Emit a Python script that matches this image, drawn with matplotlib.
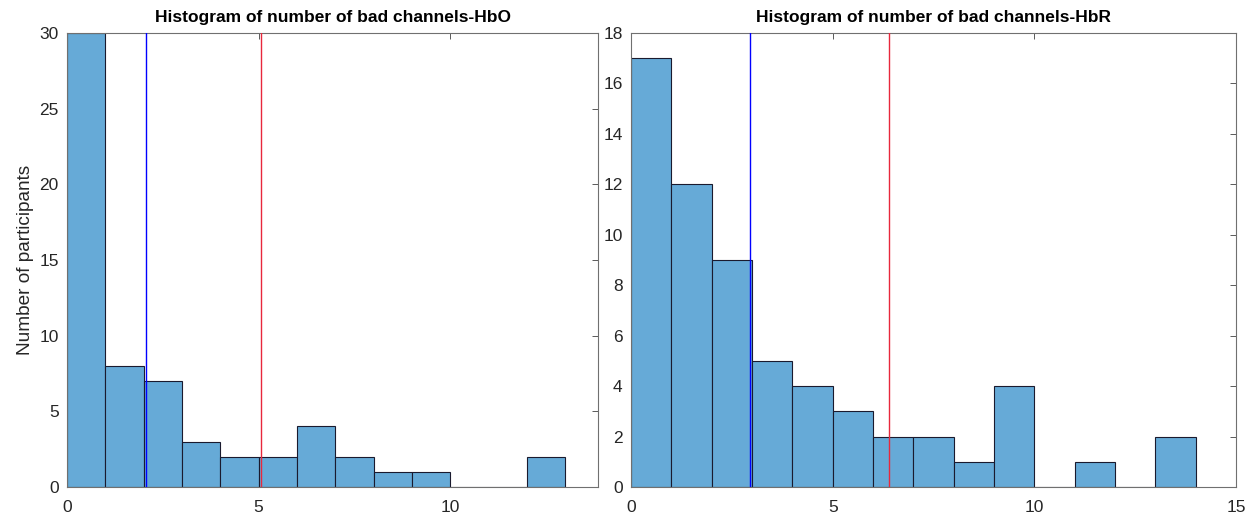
import matplotlib.pyplot as plt
import numpy as np

# Histogram counts per unit bin (bin left edges start at 0)
hbo_counts = [30, 8, 7, 3, 2, 2, 4, 2, 1, 1, 0, 0, 2]
hbr_counts = [17, 12, 9, 5, 4, 3, 2, 2, 1, 4, 0, 1, 0, 2]

# vertical reference lines (blue, red)
hbo_lines = [2.05, 5.07]
hbr_lines = [2.96, 6.39]

plt.rcParams['font.family'] = ['Liberation Sans', 'DejaVu Sans']

bar_color = '#66aad7'
edge_color = '#1a1a2e'

fig = plt.figure(figsize=(12.55, 5.14), dpi=100)
ax1 = fig.add_axes([0.0534, 0.0525, 0.4231, 0.8833])
ax2 = fig.add_axes([0.5028, 0.0525, 0.4821, 0.8833])


def draw(ax, counts, lines, title, xlim, ylim, yticks):
    edges = np.arange(len(counts))
    ax.bar(edges, counts, width=1, align='edge', color=bar_color,
           edgecolor=edge_color, linewidth=0.8, zorder=2)
    ax.axvline(lines[0], color='#0000ff', linewidth=1, zorder=3)
    ax.axvline(lines[1], color='#e8283c', linewidth=1, zorder=3)
    ax.set_xlim(*xlim)
    ax.set_ylim(*ylim)
    ax.set_yticks(yticks)
    ax.set_xticks([0, 5, 10, 15] if xlim[1] >= 15 else [0, 5, 10])
    ax.set_title(title, fontsize=12.5, fontweight='bold', pad=8)
    ax.tick_params(direction='in', length=4, width=0.6, top=True, right=True,
                   labelsize=12.5, color='#404040', labelcolor='#262626')
    ax.tick_params(axis='x', pad=9)
    ax.tick_params(axis='y', pad=6)
    for s in ax.spines.values():
        s.set_color('#707070')
        s.set_linewidth(0.8)


draw(ax1, hbo_counts, hbo_lines, 'Histogram of number of bad channels-HbO',
     (0, 13.86), (0, 30), range(0, 31, 5))
draw(ax2, hbr_counts, hbr_lines, 'Histogram of number of bad channels-HbR',
     (0, 15), (0, 18), range(0, 19, 2))
ax1.set_ylabel('Number of participants', fontsize=13.7, labelpad=4,
               color='#262626')

fig.savefig('out.png', dpi=100)
